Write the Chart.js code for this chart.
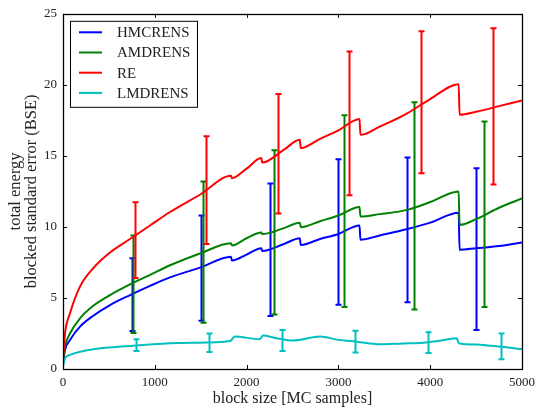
<!DOCTYPE html>
<html>
<head>
<meta charset="utf-8">
<script src="https://cdn.jsdelivr.net/npm/chart.js@4/dist/chart.umd.min.js"></script>
<style>
  html, body { margin: 0; padding: 0; background: #fff; }
  #wrap { width: 536px; height: 412px; }
</style>
</head>
<body>
<div id="wrap"><canvas id="chart" width="536" height="412"></canvas></div>
<script>
// block sizes shared by the three sawtooth curves
const blockSizes = [0, 22, 76, 185, 330, 512, 730, 948, 1166, 1500, 1830, 1840, 2000, 2160, 2170,
    2400, 2580, 2590, 2800, 3000, 3230, 3240, 3450, 3750, 4000, 4310, 4320, 4500, 4750, 5000];

const hmcValues = [0.4, 1.34, 2.04, 2.98, 3.75, 4.5, 5.2, 5.85, 6.45, 7.15, 7.9, 7.63, 8.05, 8.5, 8.3,
    8.78, 9.2, 8.73, 9.15, 9.5, 10.1, 9.1, 9.4, 9.85, 10.3, 11.0, 8.4, 8.5, 8.65, 8.9];

const amdValues = [0.5, 1.6, 2.5, 3.57, 4.45, 5.2, 5.95, 6.62, 7.3, 8.15, 8.85, 8.7, 9.2, 9.6, 9.5,
    9.9, 10.3, 9.98, 10.4, 10.8, 11.4, 10.73, 10.9, 11.2, 11.75, 12.5, 10.14, 10.55, 11.35, 12.0];

const reValues = [0.6, 2.5, 3.92, 5.8, 7.1, 8.2, 9.15, 10.1, 11.05, 12.3, 13.6, 13.43, 14.1, 14.85, 14.53,
    15.4, 16.13, 15.54, 16.2, 16.8, 17.6, 16.48, 17.06, 18.0, 19.0, 20.05, 17.89, 18.1, 18.5, 18.9];

// LMDRENS has its own block sizes
const lmdBlockSizes = [0, 22, 76, 185, 330, 730, 1166, 1420, 1820, 1870, 2140, 2180, 2300, 2510, 2800,
    3000, 3200, 3450, 3700, 3925, 4120, 4290, 4310, 4500, 4650, 4800, 5000];
const lmdValues = [0.2, 0.75, 0.99, 1.22, 1.39, 1.62, 1.81, 1.85, 1.97, 2.28, 2.1, 2.35, 2.2, 2.0, 2.28,
    2.05, 1.92, 1.74, 1.8, 1.85, 2.0, 2.16, 1.81, 1.72, 1.64, 1.55, 1.4];

// error bars: position, lower end, upper end
const hmcErrX = [750, 1500, 2250, 3000, 3750, 4500];
const hmcErrLow = [2.68, 3.4, 3.73, 4.53, 4.7, 2.75];
const hmcErrHigh = [7.8, 10.8, 13.05, 14.77, 14.88, 14.13];

const amdErrX = [765, 1530, 2295, 3060, 3825, 4590];
const amdErrLow = [2.54, 3.26, 3.83, 4.37, 4.18, 4.37];
const amdErrHigh = [9.4, 13.2, 15.4, 17.86, 18.78, 17.42];

const reErrX = [780, 1560, 2340, 3120, 3900, 4680];
const reErrLow = [6.4, 8.8, 10.94, 12.23, 13.78, 12.98];
const reErrHigh = [11.74, 16.39, 19.35, 22.35, 23.78, 23.99];

const lmdErrX = [795, 1590, 2385, 3180, 3975, 4770];
const lmdErrLow = [1.27, 1.2, 1.27, 1.17, 1.13, 0.68];
const lmdErrHigh = [2.09, 2.5, 2.75, 2.7, 2.58, 2.5];

const xTicks = [0, 1000, 2000, 3000, 4000, 5000];
const yTicks = [0, 5, 10, 15, 20, 25];

const SERIF = '"Liberation Serif", "DejaVu Serif", serif';

const toPoints = (xs, ys) => xs.map((x, i) => ({ x, y: ys[i] }));
const toBars = (xs, lo, hi) => xs.map((x, i) => ({ x, lo: lo[i], hi: hi[i] }));

function makeSeries(label, color, points, bars, order) {
    return {
        label,
        data: points,
        borderColor: color,
        backgroundColor: color,
        borderWidth: 2,
        pointRadius: 0,
        cubicInterpolationMode: 'monotone',
        fill: false,
        order,
        errorBars: bars,
    };
}

// vertical error bars with caps, drawn right after their own line
const errorBarPlugin = {
    id: 'errorBars',
    afterDatasetDraw(chart, args) {
        const ds = chart.data.datasets[args.index];
        if (!ds.errorBars) return;
        const { ctx, scales: { x, y } } = chart;
        ctx.save();
        ctx.strokeStyle = ds.borderColor;
        ctx.lineWidth = 2;
        ds.errorBars.forEach(bar => {
            const px = Math.round(x.getPixelForValue(bar.x)) + 0.5;
            const top = y.getPixelForValue(bar.hi);
            const bottom = y.getPixelForValue(bar.lo);
            ctx.beginPath();
            ctx.moveTo(px, top);
            ctx.lineTo(px, bottom);
            ctx.moveTo(px - 3, top);
            ctx.lineTo(px + 3, top);
            ctx.moveTo(px - 3, bottom);
            ctx.lineTo(px + 3, bottom);
            ctx.stroke();
        });
        ctx.restore();
    },
};

// box around the plot with inward tick marks on all sides, plus the legend
const framePlugin = {
    id: 'frame',
    afterDraw(chart) {
        const { ctx, chartArea: a, scales: { x, y } } = chart;
        ctx.save();
        ctx.strokeStyle = '#000';
        ctx.lineWidth = 1;
        ctx.beginPath();
        xTicks.forEach(v => {
            const px = Math.round(x.getPixelForValue(v)) + 0.5;
            ctx.moveTo(px, a.bottom);
            ctx.lineTo(px, a.bottom - 4);
            ctx.moveTo(px, a.top);
            ctx.lineTo(px, a.top + 4);
        });
        yTicks.forEach(v => {
            const py = Math.round(y.getPixelForValue(v)) + 0.5;
            ctx.moveTo(a.left, py);
            ctx.lineTo(a.left + 4, py);
            ctx.moveTo(a.right, py);
            ctx.lineTo(a.right - 4, py);
        });
        ctx.stroke();
        ctx.lineWidth = 1.3;
        ctx.strokeRect(Math.round(a.left) + 0.5, Math.round(a.top) + 0.5,
            Math.round(a.right - a.left), Math.round(a.bottom - a.top));

        // legend
        const lx = a.left + 7, ly = a.top + 7;
        ctx.fillStyle = '#fff';
        ctx.fillRect(lx, ly, 127, 86);
        ctx.lineWidth = 1;
        ctx.strokeStyle = '#000';
        ctx.strokeRect(lx + 0.5, ly + 0.5, 127, 86);
        ctx.font = '15px ' + SERIF;
        ctx.textBaseline = 'middle';
        chart.data.datasets.forEach((ds, i) => {
            const rowY = ly + 11.5 + i * 20.2;
            ctx.strokeStyle = ds.borderColor;
            ctx.lineWidth = 2;
            ctx.beginPath();
            ctx.moveTo(lx + 9, rowY);
            ctx.lineTo(lx + 32, rowY);
            ctx.stroke();
            ctx.fillStyle = '#222';
            ctx.fillText(ds.label, lx + 47, rowY + 1);
        });
        ctx.restore();
    },
};

new Chart(document.getElementById('chart').getContext('2d'), {
    type: 'line',
    data: {
        datasets: [
            makeSeries('HMCRENS', '#0000ff', toPoints(blockSizes, hmcValues), toBars(hmcErrX, hmcErrLow, hmcErrHigh), 4),
            makeSeries('AMDRENS', '#008000', toPoints(blockSizes, amdValues), toBars(amdErrX, amdErrLow, amdErrHigh), 3),
            makeSeries('RE', '#ff0000', toPoints(blockSizes, reValues), toBars(reErrX, reErrLow, reErrHigh), 2),
            makeSeries('LMDRENS', '#00bfbf', toPoints(lmdBlockSizes, lmdValues), toBars(lmdErrX, lmdErrLow, lmdErrHigh), 1),
        ],
    },
    options: {
        responsive: false,
        animation: false,
        devicePixelRatio: 1,
        layout: { padding: { top: 13, right: 14, left: 0, bottom: 0 } },
        plugins: {
            legend: { display: false },
            tooltip: { enabled: false },
        },
        scales: {
            x: {
                type: 'linear',
                min: 0,
                max: 5000,
                afterBuildTicks: scale => { scale.ticks = xTicks.map(value => ({ value })); },
                afterFit: scale => {
                    scale.height = 43;
                    scale.paddingLeft = 0;
                    scale.paddingRight = 0;
                },
                grid: { display: false, drawTicks: false },
                border: { display: false },
                ticks: {
                    padding: 6,
                    color: '#222',
                    font: { family: SERIF, size: 13 },
                    maxRotation: 0,
                    callback: v => String(v),
                },
                title: {
                    display: true,
                    text: 'block size [MC samples]',
                    color: '#222',
                    font: { family: SERIF, size: 16 },
                    padding: { top: 0, bottom: 4 },
                },
            },
            y: {
                min: 0,
                max: 25,
                afterBuildTicks: scale => { scale.ticks = yTicks.map(value => ({ value })); },
                afterFit: scale => { scale.width = 63; },
                grid: { display: false, drawTicks: false },
                border: { display: false },
                ticks: {
                    padding: 6,
                    color: '#222',
                    font: { family: SERIF, size: 13 },
                },
                title: {
                    display: true,
                    text: ['total energy', 'blocked standard error (BSE)'],
                    color: '#222',
                    font: { family: SERIF, size: 16.5, lineHeight: 0.95 },
                    padding: { top: 8, bottom: 0 },
                },
            },
        },
    },
    plugins: [errorBarPlugin, framePlugin],
});
</script>
</body>
</html>
